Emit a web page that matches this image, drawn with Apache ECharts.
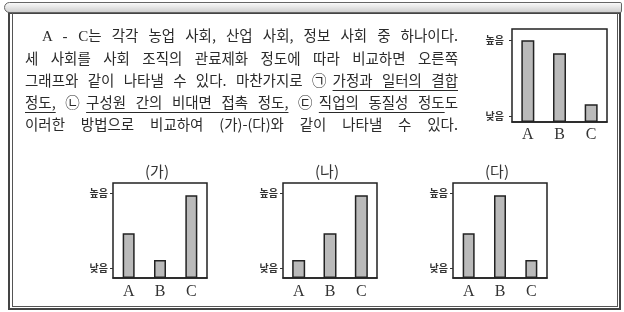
<!DOCTYPE html>
<html>
<head>
<meta charset="utf-8">
<script src="https://cdn.jsdelivr.net/npm/echarts@6/dist/echarts.min.js"></script>
<style>
  body { margin: 0; background: #fff; }
  #wrap { position: relative; width: 624px; height: 312px; overflow: hidden; font-family: "Noto Sans CJK KR", sans-serif; }
  .frame-outer { position: absolute; left: 8px; top: 12px; width: 613px; height: 298px; border: 2px solid #444; box-sizing: border-box; }
  .frame-inner { position: absolute; left: 12px; top: 12px; width: 606px; height: 295px; border: 1px solid #555; box-sizing: border-box; }
  .topbar { position: absolute; left: 4px; top: 2px; width: 618px; height: 11px; border: 1px solid #666; border-radius: 6px 2px 2px 6px; box-sizing: border-box; background: linear-gradient(#fafafa, #cfcfcf); }
  #chart { position: absolute; left: 0; top: 0; width: 624px; height: 312px; }
  #text { position: absolute; left: 25px; top: 24px; width: 433px; font-size: 14.5px; line-height: 22px; color: #2a2a2a; }
  #text div { text-align: justify; text-align-last: justify; white-space: nowrap; }
  #text u { text-underline-offset: 4px; text-decoration-thickness: 1px; }
  .serif { font-family: "Liberation Serif", serif; font-size: 15px; }
</style>
</head>
<body>
<div id="wrap">
  <div class="frame-outer"></div>
  <div class="frame-inner"></div>
  <div class="topbar"></div>
  <div id="chart"></div>
  <div id="text">
    <div style="padding-left:17px"><span class="serif">A - C</span>는 각각 농업 사회, 산업 사회, 정보 사회 중 하나이다.</div>
    <div>세 사회를 사회 조직의 관료제화 정도에 따라 비교하면 오른쪽</div>
    <div>그래프와 같이 나타낼 수 있다. 마찬가지로 ㉠<u>가정과 일터의 결합</u></div>
    <div><u>정도,</u> ㉡<u>구성원 간의 비대면 접촉 정도,</u> ㉢<u>직업의 동질성 정도</u>도</div>
    <div>이러한 방법으로 비교하여 (가)-(다)와 같이 나타낼 수 있다.</div>
  </div>
</div>
<script>
  const categories = ['A', 'B', 'C'];
  const levelNames = ['낮음', '높음'];
  const titles = ['(가)', '(나)', '(다)'];

  // top-right chart: bureaucratization
  const bureaucracy = [88, 74, 19];
  const topLevelTicks = [6, 88];

  // (가), (나), (다)
  const ga = [47, 19, 87];
  const na = [19, 47, 87];
  const da = [47, 87, 19];
  const levelTicks = [10, 89];

  const chart = echarts.init(document.getElementById('chart'));

  const boxes = [
    { left: 512, top: 29, width: 95, height: 93, ticks: topLevelTicks, data: bureaucracy, barWidth: 13, labelMargin: 8, catMargin: 5 },
    { left: 113, top: 183, width: 94, height: 95, ticks: levelTicks, data: ga, barWidth: 12, labelMargin: 5, catMargin: 6 },
    { left: 283, top: 183, width: 94, height: 95, ticks: levelTicks, data: na, barWidth: 13, labelMargin: 5, catMargin: 6 },
    { left: 453, top: 183, width: 94, height: 95, ticks: levelTicks, data: da, barWidth: 12, labelMargin: 5, catMargin: 6 },
  ];

  const option = {
    animation: false,
    grid: boxes.map(b => ({
      left: b.left, top: b.top, width: b.width, height: b.height,
      show: true, borderColor: '#222', borderWidth: 1.5, backgroundColor: 'transparent',
      outerBoundsMode: 'none',
    })),
    xAxis: boxes.map((b, i) => ({
      type: 'category',
      gridIndex: i,
      data: categories,
      axisLine: { show: true, lineStyle: { color: '#222', width: 1.5 } },
      axisTick: { show: false },
      axisLabel: { margin: b.catMargin, fontFamily: 'Liberation Serif', fontSize: 16, color: '#333' },
    })),
    yAxis: boxes.map((b, i) => ({
      type: 'value',
      gridIndex: i,
      min: 0,
      max: 100,
      splitLine: { show: false },
      axisLine: { show: false },
      axisTick: { show: true, customValues: b.ticks, length: 3, lineStyle: { color: '#333' } },
      axisLabel: {
        customValues: b.ticks,
        margin: b.labelMargin,
        fontFamily: 'Noto Sans CJK KR',
        fontSize: 10,
        fontWeight: 'bold',
        color: '#333',
        formatter: v => (v === b.ticks[1] ? levelNames[1] : levelNames[0]),
      },
    })),
    series: boxes.map((b, i) => ({
      type: 'bar',
      xAxisIndex: i,
      yAxisIndex: i,
      data: b.data,
      barWidth: b.barWidth,
      itemStyle: { color: '#bababa', borderColor: '#222', borderWidth: 1.5 },
    })),
    graphic: titles.map((t, i) => ({
      type: 'text',
      x: boxes[i + 1].left + boxes[i + 1].width / 2 - 3,
      y: 171,
      style: {
        text: t, fontFamily: 'Noto Sans CJK KR', fontSize: 15, fill: '#333',
        align: 'center', verticalAlign: 'middle',
      },
    })),
  };

  chart.setOption(option);
</script>
</body>
</html>
